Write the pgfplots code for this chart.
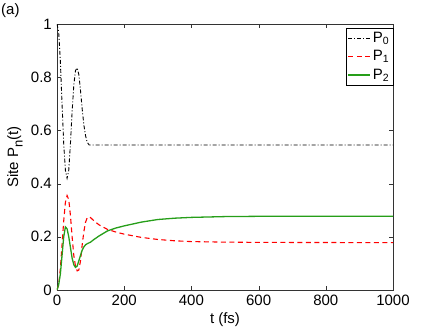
\documentclass[border=0pt]{standalone}
\usepackage{fontspec}
\setmainfont{Liberation Sans}
\usepackage{pgfplots}
\pgfplotsset{compat=1.18}
\definecolor{pgreen}{rgb}{0.15,0.62,0.1}
\newcommand{\lowsub}[1]{\lower4.5pt\hbox{\fontsize{13}{15}\selectfont #1}}
\begin{document}
\fontsize{15}{17}\selectfont
\begin{tikzpicture}
\begin{axis}[
  scale only axis, width=336pt, height=266pt,
  xmin=0, xmax=1000, ymin=0, ymax=1,
  xtick={0,200,400,600,800,1000},
  xticklabels={0,200,400,600,800,1000},
  ytick={0,0.2,0.4,0.6,0.8,1},
  yticklabels={0,0.2,0.4,0.6,0.8,1},
  tick align=inside, xtick pos=both, ytick pos=both,
  major tick length=4pt,
  tick label style={font=\fontsize{15}{17}\selectfont},
  label style={font=\fontsize{15}{17}\selectfont},
  xlabel={t (fs)},
  ylabel={Site P\lowsub{n}(t)},
  xlabel style={yshift=3pt},
  ylabel style={yshift=-2pt},
  axis line style={black!80},
  tick style={black!80},
  legend style={at={(1,1)}, anchor=north east, yshift=-4pt,
    font=\fontsize{15}{17}\selectfont, row sep=2pt,
    inner sep=1.5pt},
  legend cell align=left,
  legend image code/.code={\draw[#1] (0pt,0pt) -- (22pt,0pt);},
]
\addplot[black, line width=0.9pt, dash pattern=on 4pt off 2pt on 1pt off 2pt] coordinates {
  (0,1.0) (5,0.97) (10,0.86) (15,0.70) (20,0.55) (25,0.45) (30,0.42)
  (35,0.45) (40,0.55) (45,0.67) (50,0.77) (55,0.825) (60,0.835)
  (65,0.81) (70,0.75) (75,0.68) (80,0.62) (85,0.58) (90,0.555)
  (96,0.545) (100,0.545) (1000,0.545)
};
\addlegendentry{P\textsubscript{0}}
\addplot[red, line width=1.1pt, dash pattern=on 5pt off 3.5pt] coordinates {
  (0,0) (5,0.02) (10,0.08) (15,0.17) (20,0.26) (25,0.33) (30,0.355)
  (35,0.34) (40,0.28) (45,0.2) (50,0.13) (55,0.09) (60,0.072)
  (65,0.075) (70,0.11) (75,0.17) (80,0.22) (85,0.255) (90,0.272)
  (95,0.275) (100,0.272) (110,0.26) (125,0.245) (150,0.228)
  (175,0.218) (200,0.21) (250,0.198) (300,0.19) (350,0.185)
  (400,0.182) (500,0.18) (600,0.179) (1000,0.178)
};
\addlegendentry{P\textsubscript{1}}
\addplot[pgreen, line width=1.3pt] coordinates {
  (0,0) (5,0.02) (10,0.06) (15,0.13) (20,0.2) (25,0.237) (30,0.23)
  (35,0.2) (40,0.16) (45,0.12) (50,0.095) (55,0.085) (60,0.09)
  (65,0.11) (70,0.13) (75,0.15) (80,0.162) (85,0.17) (90,0.174)
  (95,0.177) (100,0.18) (110,0.19) (125,0.203) (150,0.222)
  (175,0.233) (200,0.241) (250,0.255) (300,0.265) (350,0.27)
  (400,0.273) (500,0.276) (600,0.277) (1000,0.277)
};
\addlegendentry{P\textsubscript{2}}
\end{axis}
\node[anchor=north west, inner sep=0pt] at ([xshift=-56pt,yshift=21pt]current axis.north west) {(a)};
\pgfresetboundingbox
\path ([xshift=-57pt,yshift=-37pt]current axis.south west) rectangle ([xshift=43pt,yshift=24pt]current axis.north east);
\end{tikzpicture}
\end{document}
